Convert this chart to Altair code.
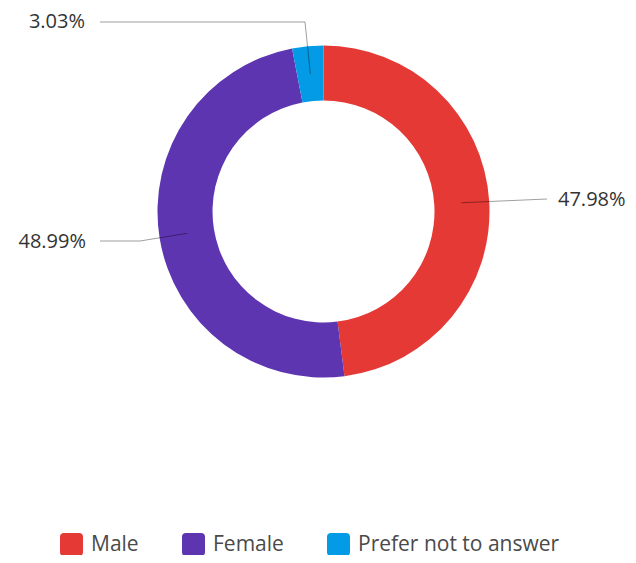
import math
import altair as alt
import pandas as pd

# ---- data ----
categories = ["Male", "Female", "Prefer not to answer"]
shares = [47.98, 48.99, 3.03]
labels = ["47.98%", "48.99%", "3.03%"]
colors = ["#E53935", "#5E35B1", "#039BE5"]

# ---- layout (pixels inside the plot area) ----
W, H = 620, 547
CX, CY = 315.5, 203.5
R_OUT, R_IN, R_LEAD = 166, 111, 138
LEADER_PATH = {
    "Male": [(539, 191)],
    "Female": [(132, 233), (92, 233)],
    "Prefer not to answer": [(297, 14), (92, 14)],
}
LABEL_POS = {
    "Male": (550, 192, "left"),
    "Female": (78, 233.5, "right"),
    "Prefer not to answer": (77, 13.5, "right"),
}
FONT = "Open Sans"

df = pd.DataFrame({"category": categories, "share": shares,
                   "order": list(range(len(categories)))})

# leader lines: start point derived from the slice mid-angle
total = sum(shares)
rows = []
cum = 0.0
for c, s in zip(categories, shares):
    mid = (cum + s / 2) / total * 2 * math.pi
    cum += s
    sx = CX + R_LEAD * math.sin(mid)
    sy = CY - R_LEAD * math.cos(mid)
    pts = [(sx, sy)] + LEADER_PATH[c]
    for k, (x, y) in enumerate(pts):
        rows.append({"category": c, "k": k, "px": x, "py": y})
lines_df = pd.DataFrame(rows)

lab_rows = []
for c, l in zip(categories, labels):
    x, y, a = LABEL_POS[c]
    lab_rows.append({"category": c, "label": l, "tx": x, "ty": y, "al": a})
labels_df = pd.DataFrame(lab_rows)

rounded_sq = ("M -0.65,-1 L 0.65,-1 Q 1,-1 1,-0.65 L 1,0.65 Q 1,1 0.65,1 "
              "L -0.65,1 Q -1,1 -1,0.65 L -1,-0.65 Q -1,-1 -0.65,-1 Z")

arc = alt.Chart(df).mark_arc(outerRadius=R_OUT, innerRadius=R_IN).encode(
    theta=alt.Theta("share:Q", stack=True),
    order=alt.Order("order:Q"),
    color=alt.Color(
        "category:N",
        scale=alt.Scale(domain=categories, range=colors),
        sort=categories,
        legend=alt.Legend(
            title=None, orient="none", direction="horizontal",
            legendX=52, legendY=525, padding=0,
            symbolType=rounded_sq, symbolSize=529, symbolStrokeWidth=0,
            symbolOpacity=1,
            labelFont=FONT, labelFontSize=21, labelColor="#4a4a4a",
            labelOffset=8, columnPadding=43, labelLimit=400,
        ),
    ),
    x=alt.value(CX),
    y=alt.value(CY),
)

lines = alt.Chart(lines_df).mark_line(color="#000000", strokeWidth=1, opacity=0.38).encode(
    x=alt.X("px:Q", scale=None, axis=None),
    y=alt.Y("py:Q", scale=None, axis=None),
    detail="category:N",
    order="k:Q",
)

text_left = alt.Chart(labels_df).transform_filter("datum.al == 'left'").mark_text(
    align="left", baseline="middle", font=FONT, fontSize=20, color="#333333"
).encode(
    x=alt.X("tx:Q", scale=None, axis=None),
    y=alt.Y("ty:Q", scale=None, axis=None),
    text="label:N",
)
text_right = alt.Chart(labels_df).transform_filter("datum.al == 'right'").mark_text(
    align="right", baseline="middle", font=FONT, fontSize=20, color="#333333"
).encode(
    x=alt.X("tx:Q", scale=None, axis=None),
    y=alt.Y("ty:Q", scale=None, axis=None),
    text="label:N",
)

chart = alt.layer(arc, lines, text_left, text_right).properties(
    width=W, height=H, padding=0,
    autosize=alt.AutoSizeParams(type="none"),
).configure(background="white").configure_view(stroke=None)

chart.save("out.html", embed_options={"renderer": "svg", "actions": False})
